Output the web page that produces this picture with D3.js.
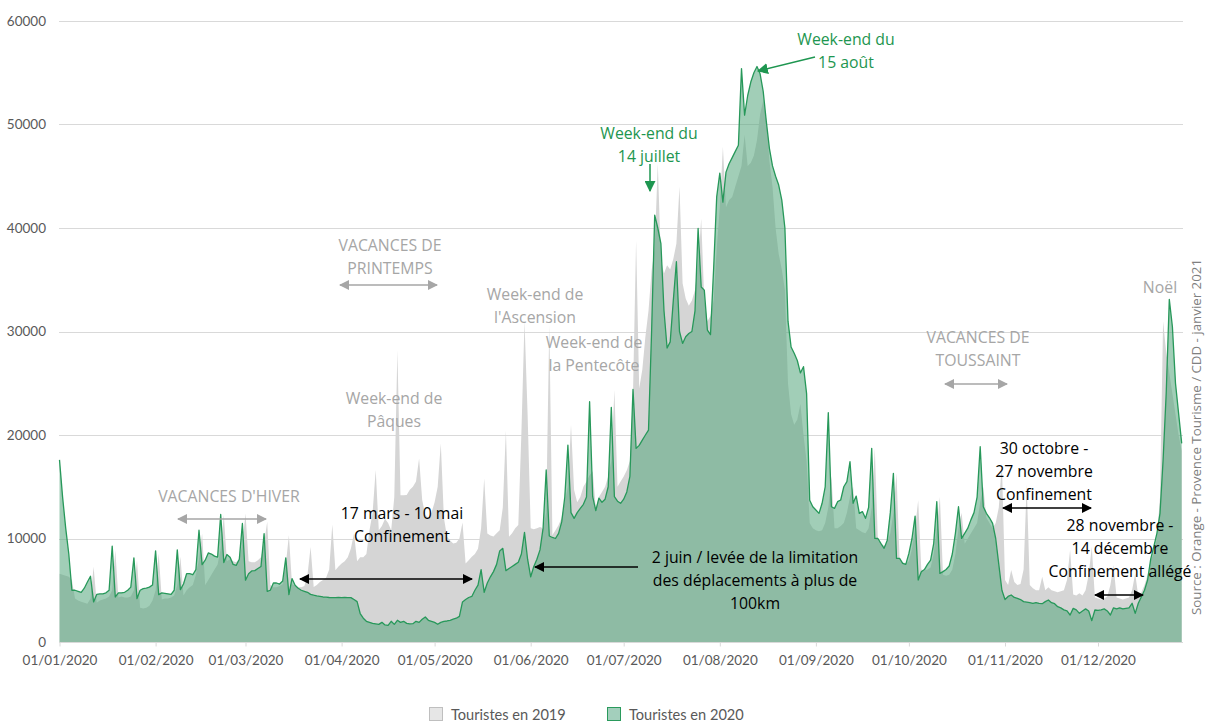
<!DOCTYPE html>
<html><head><meta charset="utf-8">
<script src="https://cdn.jsdelivr.net/npm/d3@7"></script>
<style>body{margin:0;background:#fff}svg{display:block}</style>
</head><body>
<svg id="c" width="1212" height="722"></svg>
<script>
const monthTickLabels = ["01/01/2020","01/02/2020","01/03/2020","01/04/2020","01/05/2020","01/06/2020","01/07/2020","01/08/2020","01/09/2020","01/10/2020","01/11/2020","01/12/2020"];
const yTickValues = [0,10000,20000,30000,40000,50000,60000];
const seriesNames = ["Touristes en 2019","Touristes en 2020"];

const v2019 = [
6600,6500,6400,6300,6000,4200,4000,
3900,3800,3700,4200,7260,3800,4000,
4100,4200,4400,5000,8870,4300,4400,
4300,4300,4400,5000,7900,3300,3230,
3300,3500,4000,5000,8550,4100,4200,
4200,4300,4500,5500,8230,4500,5000,
5300,5500,6500,8000,10480,5500,6000,
6500,7000,7500,9000,12260,7800,8000,
7800,7700,8000,9500,12420,7800,7700,
7700,7900,8200,9500,11610,5500,5300,
5300,5400,5600,7500,10320,5600,5400,
5300,5300,5400,6500,9190,5320,5500,
5800,6000,6200,7000,11350,6940,7300,
7580,7800,8200,9030,10480,7800,8200,
8200,8500,10800,12500,16610,10800,11200,
11900,11500,10800,14000,28200,14190,14190,
14200,14700,15000,15500,17740,13710,12260,
12000,12500,13500,15000,19190,12000,10160,
9800,9520,9600,10000,11550,7580,7900,
8230,8500,9000,11000,15800,10480,10300,
10200,10500,10800,13000,20400,10180,10500,
11000,11300,20200,31000,22000,11000,10900,
11000,11100,11000,12500,30620,10340,10800,
11300,12000,13500,15000,20960,14680,13500,
14000,15000,15500,16100,16500,13000,14000,
14500,15000,16000,17500,24340,15000,15500,
16000,16600,17500,24000,38800,24500,26300,
29500,32000,35900,38000,46200,36900,35600,
36400,36000,37000,38500,44000,34650,33200,
32500,33000,34000,36500,40900,33000,31000,
31500,33000,38000,42000,47850,42000,42700,
43000,44000,45000,46000,49000,46000,46300,
47000,48500,51000,52300,50500,46500,44000,
40000,37500,36000,34000,25000,22000,21000,
21500,23000,20000,17500,11500,11000,10800,
10700,10800,11500,13000,16000,11000,11000,
11200,11500,12500,14000,15000,11000,10800,
10600,10500,11000,13000,18700,9800,9500,
9300,9600,10500,12500,16300,8000,7700,
7600,7800,9000,11000,13700,7000,6900,
7000,7200,8500,11000,14000,6500,6400,
6500,7000,8500,11000,12500,9500,10000,
10500,11000,11500,13500,15000,12000,11500,
11000,11500,13000,17300,6000,5500,6950,
5800,5500,5600,7000,15200,5500,5200,
5000,5000,6300,5000,5300,5000,4900,
4800,4900,5000,6000,8890,4600,4500,
4700,4500,5000,6500,9210,4300,4200,
4100,4200,4400,5500,7440,4300,4200,
4100,4200,4300,5000,6630,4400,4800,
5500,6500,7920,8500,10000,14000,31000,
28000,26000,24000,22000,20000,18500
];

const v2020 = [
17600,14000,11000,8500,5000,5000,4900,
4800,5200,5800,6350,3870,4600,4650,
4650,4750,5000,9260,4350,4750,4750,
4800,5000,5300,8130,4190,5000,5160,
5200,5300,5500,8800,4580,4740,4700,
4650,4600,5000,8900,5060,5600,6600,
6600,6500,7000,10800,7480,7900,8600,
8500,8300,8200,12320,7680,8450,8200,
7500,7400,8000,11450,5970,6600,6870,
6900,7100,7300,10480,4900,5000,5700,
5700,5600,5900,8130,4580,6130,5480,
5200,5000,4900,4800,4600,4520,4450,
4400,4350,4330,4300,4290,4280,4300,
4290,4300,4280,4290,4100,3900,2750,
2300,2000,1900,1800,1750,1700,1900,
1650,1600,2000,1700,2100,1900,2000,
1800,1750,1770,2000,1900,2200,2420,
2100,2000,1900,1710,1900,2000,2030,
2100,2200,2300,2480,3870,4100,4300,
4400,5000,5500,7000,4800,5700,6300,
6800,7500,8800,9050,6900,7100,7300,
7500,7700,8500,10600,8000,6300,7300,
8000,8900,11000,16620,10240,10100,10000,
10500,11600,14000,19030,12500,11940,12500,
12910,13300,14000,23220,14040,12690,13900,
13500,13800,15000,22670,14040,13600,13400,
13800,14500,16000,24400,18710,19000,19510,
20000,20480,30000,41250,40000,38500,32000,
28400,29000,33000,36740,30000,28850,29500,
29800,30000,32000,39960,34300,34000,30140,
29700,36000,43000,45300,42500,45400,46200,
46800,47400,48000,55400,50900,52800,54100,
55000,55600,54900,53200,50300,47700,46000,
45000,44150,42700,40000,31000,28500,27900,
27200,26000,26600,24000,13700,13070,12750,
12430,13400,15000,22150,13070,12910,13560,
13720,15000,15500,17420,13400,14100,12430,
12600,11950,13000,18710,10010,10000,9500,
9050,9800,12500,16290,8080,8080,7600,
7500,8560,10000,12170,5990,6790,7000,
7500,7920,9500,13560,6630,6800,7000,
7340,8500,10500,13070,10010,10500,11000,
11800,12500,14000,18870,13070,12430,12000,
11460,10000,7500,5000,4100,4400,4540,
4300,4220,4100,3900,3850,3800,3740,
3800,3740,3700,3900,4060,3800,3700,
3410,3300,3100,3000,2610,3250,3100,
2770,3000,3200,3000,2060,3090,3050,
3100,3200,3000,2610,3300,3200,3300,
3200,3250,3300,3740,2770,3740,4380,
5000,5990,8000,9210,10500,12430,17580,
24020,33100,30460,24990,22090,19190
];

const startDate = new Date(2020,0,1);
const dates = v2020.map((_, i) => d3.timeDay.offset(startDate, i));
const monthStarts = d3.range(12).map(m => new Date(2020, m, 1));

const svg = d3.select('#c');
const x = d3.scaleTime().domain([dates[0], dates[dates.length-1]]).range([59.5, 1181.7]);
const y = d3.scaleLinear().domain([0, 60000]).range([642, 21]);

const axisFont = "Lato, 'Open Sans', sans-serif";
const annFont = "'Open Sans', 'Noto Sans', sans-serif";

// gridlines
svg.append('g').selectAll('line').data(yTickValues.slice(1)).join('line')
  .attr('x1', 59).attr('x2', 1183)
  .attr('y1', d => Math.round(y(d)) + 0.5).attr('y2', d => Math.round(y(d)) + 0.5)
  .attr('stroke', '#d9d9d9').attr('stroke-width', 1);

// areas
const area = d3.area().x((d, i) => x(dates[i])).y0(y(0)).y1(d => y(d));
const line = d3.line().x((d, i) => x(dates[i])).y(d => y(d));
svg.append('path').datum(v2019).attr('d', area).attr('fill', '#d5d5d5');
svg.append('path').datum(v2020).attr('d', area).attr('fill', 'rgb(84,165,124)').attr('fill-opacity', 0.55);
svg.append('path').datum(v2020).attr('d', line).attr('fill', 'none')
  .attr('stroke', '#27985a').attr('stroke-width', 1.3).attr('stroke-linejoin', 'round');

// x axis
const xAxis = d3.axisBottom(x).tickValues(monthStarts)
  .tickFormat((d, i) => monthTickLabels[i]).tickSize(4).tickPadding(9);
const gx = svg.append('g').attr('transform', 'translate(0,642.5)').call(xAxis);
gx.select('.domain').attr('stroke', '#d9d9d9').attr('d', 'M59,0H1183');
gx.selectAll('.tick line').attr('stroke', '#d9d9d9');
gx.selectAll('.tick text').attr('fill', '#595959').style('font-family', axisFont).style('font-size', '13.5px');

// y axis
const yAxis = d3.axisLeft(y).tickValues(yTickValues).tickFormat(d => String(d)).tickSize(0).tickPadding(13);
const gy = svg.append('g').attr('transform', 'translate(59,0)').call(yAxis);
gy.select('.domain').remove();
gy.selectAll('.tick text').attr('fill', '#595959').style('font-family', axisFont).style('font-size', '13.5px');

// markers
const defs = svg.append('defs');
function marker(id, color, w, h) {
  defs.append('marker').attr('id', id).attr('viewBox', '0 0 10 10')
    .attr('refX', 9).attr('refY', 5).attr('markerUnits', 'userSpaceOnUse')
    .attr('markerWidth', w).attr('markerHeight', h).attr('orient', 'auto-start-reverse')
    .append('path').attr('d', 'M0,0L10,5L0,10z').attr('fill', color);
}
marker('ag', '#a6a6a6', 11, 10);
marker('ab', '#000000', 11, 10);
marker('agr', '#1e9650', 11, 11);

const arrows = [
  {x1:178,y1:519,x2:266,y2:519,c:'#a6a6a6',m:'ag',both:true},
  {x1:340,y1:285,x2:437,y2:285,c:'#a6a6a6',m:'ag',both:true},
  {x1:945,y1:384,x2:1007,y2:384,c:'#a6a6a6',m:'ag',both:true},
  {x1:300,y1:579,x2:472,y2:579,c:'#000',m:'ab',both:true},
  {x1:1003,y1:508,x2:1091,y2:508,c:'#000',m:'ab',both:true},
  {x1:1095,y1:595,x2:1143,y2:595,c:'#000',m:'ab',both:true},
  {x1:638,y1:567,x2:535,y2:567,c:'#000',m:'ab',both:false},
  {x1:650,y1:164,x2:650,y2:191,c:'#1e9650',m:'agr',both:false},
  {x1:815,y1:57,x2:758,y2:71,c:'#1e9650',m:'agr',both:false}
];
svg.append('g').selectAll('line').data(arrows).join('line')
  .attr('x1', d => d.x1).attr('y1', d => d.y1).attr('x2', d => d.x2).attr('y2', d => d.y2)
  .attr('stroke', d => d.c).attr('stroke-width', 1.5)
  .attr('marker-end', d => `url(#${d.m})`)
  .attr('marker-start', d => d.both ? `url(#${d.m})` : null);

// annotations
const notes = [
  {t:["VACANCES D'HIVER"], x:229, y:502, c:'#a6a6a6'},
  {t:["VACANCES DE","PRINTEMPS"], x:390, y:251, c:'#a6a6a6'},
  {t:["Week-end de","Pâques"], x:394, y:404, c:'#a6a6a6'},
  {t:["Week-end de","l'Ascension"], x:535, y:300, c:'#a6a6a6'},
  {t:["Week-end de","la Pentecôte"], x:594, y:348, c:'#a6a6a6'},
  {t:["VACANCES DE","TOUSSAINT"], x:978, y:343, c:'#a6a6a6'},
  {t:["Noël"], x:1160, y:293, c:'#a6a6a6'},
  {t:["Week-end du","14 juillet"], x:649, y:139, c:'#1e9650'},
  {t:["Week-end du","15 août"], x:846, y:45, c:'#1e9650'},
  {t:["17 mars - 10 mai","Confinement"], x:402, y:519, c:'#000'},
  {t:["2 juin / levée de la limitation","des déplacements à plus de","100km"], x:755, y:563, c:'#000'},
  {t:["30 octobre -","27 novembre","Confinement"], x:1044, y:454, c:'#000'},
  {t:["28 novembre -","14 décembre","Confinement allégé"], x:1120, y:531, c:'#000'}
];
const ng = svg.append('g');
notes.forEach(n => {
  const t = ng.append('text').attr('text-anchor', 'middle').attr('fill', n.c)
    .style('font-family', annFont).style('font-size', '15.8px');
  n.t.forEach((s, i) => t.append('tspan').attr('x', n.x).attr('y', n.y + i * 23).text(s));
});

// source
svg.append('text').attr('transform', 'translate(1201,437) rotate(-90)')
  .attr('text-anchor', 'middle').attr('fill', '#808080')
  .style('font-family', annFont).style('font-size', '13.3px')
  .text('Source : Orange - Provence Tourisme  / CDD - janvier 2021');

// legend
const lg = svg.append('g');
const legendItems = [
  {name: seriesNames[0], fill:'#e6e6e6', stroke:'#bfbfbf', x:429},
  {name: seriesNames[1], fill:'#a3cfbc', stroke:'#2a9a5c', x:607}
];
legendItems.forEach(it => {
  lg.append('rect').attr('x', it.x + 0.5).attr('y', 707.5).attr('width', 13).attr('height', 13)
    .attr('fill', it.fill).attr('stroke', it.stroke);
  lg.append('text').attr('x', it.x + 22).attr('y', 720).attr('fill', '#595959')
    .style('font-family', axisFont).style('font-size', '14.6px').text(it.name);
});
</script>
</body></html>
